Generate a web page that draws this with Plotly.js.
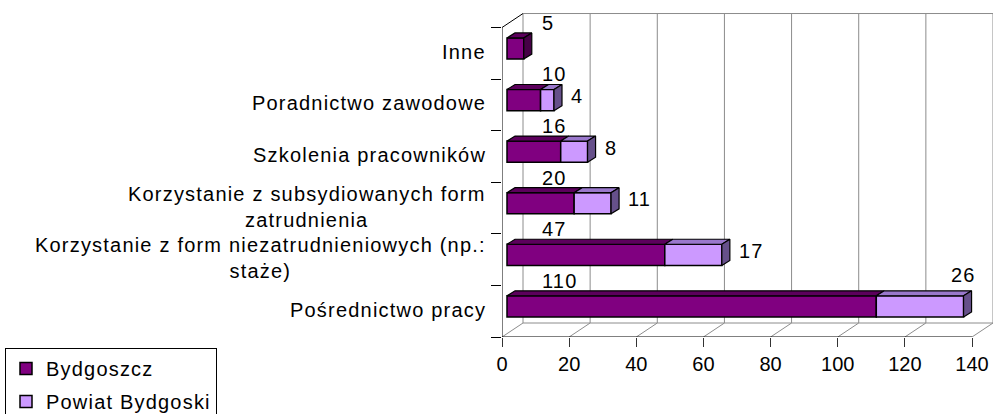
<!DOCTYPE html>
<html><head><meta charset="utf-8">
<script src="https://cdn.plot.ly/plotly-3.0.1.min.js"></script>
<style>
body{margin:0;background:#fff}
.annotation-text, .legendtext {letter-spacing:1.2px}
</style></head>
<body><div id="chart" style="width:994px;height:414px"></div>
<script>
// ---- data ----
const categories = ["Pośrednictwo pracy", "Korzystanie z form niezatrudnieniowych (np.:<br>staże)", "Korzystanie z subsydiowanych form<br>zatrudnienia", "Szkolenia pracowników", "Poradnictwo zawodowe", "Inne"];
const bydgoszcz = [110, 47, 20, 16, 10, 5];
const powiat = [26, 17, 11, 8, 4, 0];
const xTicks = [0, 20, 40, 60, 80, 100, 120, 140];
const seriesNames = ["Bydgoszcz", "Powiat Bydgoski"];

// ---- geometry ----
const W = 994, H = 414, ML = 502, MR = 1, MT = 13, MB = 77;
const PW = W - ML - MR, PH = H - MT - MB;
const PX = 470 / 140;          // px per value unit
const CH = 51.58;              // px per category
const XMAX = PW / PX, YMAX = PH / CH;
const N = categories.length;
const XEND = xTicks[xTicks.length - 1];
const WDX = 21 / PX, WDY = 14 / CH;   // wall depth offset
const BX = 5 / PX, BY = 4.8 / CH;     // bar front-face offset
const BDX = 8 / PX, BDY = 5 / CH;     // bar depth
const BH = 0.41;                      // bar thickness

const col = {
  bydFront: '#800080', bydTop: '#5c005c', bydSide: '#460046',
  powFront: '#CC99FF', powTop: '#9a78cc', powSide: '#66508a'
};
const grid = '#8c8c8c';

const yc = categories.map((_, i) => i + 0.5 + BY);
const traces = [];
traces.push({
  type: 'bar', orientation: 'h', name: seriesNames[0], legendgroup: 'a',
  x: bydgoszcz, y: yc, base: bydgoszcz.map(() => BX), width: BH,
  marker: {color: col.bydFront, line: {color: '#000', width: 1.5}}, hoverinfo: 'skip'
});
traces.push({
  type: 'bar', orientation: 'h', name: seriesNames[1], legendgroup: 'b',
  x: powiat.map(v => v > 0 ? v : null), y: yc, base: bydgoszcz.map(v => BX + v), width: BH,
  marker: {color: col.powFront, line: {color: '#000', width: 1.5}}, hoverinfo: 'skip'
});

function poly(xs, ys, fill) {
  traces.push({type: 'scatter', mode: 'lines', x: xs.concat([xs[0]]), y: ys.concat([ys[0]]),
    fill: 'toself', fillcolor: fill, line: {color: '#000', width: 1.2},
    showlegend: false, hoverinfo: 'skip'});
}
categories.forEach((c, i) => {
  const yt = yc[i] + BH / 2, yb = yc[i] - BH / 2;
  const x0 = BX, x1 = BX + bydgoszcz[i], x2 = x1 + powiat[i];
  poly([x0, x1, x1 + BDX, x0 + BDX], [yt, yt, yt + BDY, yt + BDY], col.bydTop);
  if (powiat[i] > 0) poly([x1, x2, x2 + BDX, x1 + BDX], [yt, yt, yt + BDY, yt + BDY], col.powTop);
  poly([x2, x2 + BDX, x2 + BDX, x2], [yb, yb + BDY, yt + BDY, yt], powiat[i] > 0 ? col.powSide : col.bydSide);
});

// ---- walls ----
const shapes = [];
function ln(x0, y0, x1, y1, color, w) {
  shapes.push({type: 'line', xref: 'x', yref: 'y', x0, y0, x1, y1, layer: 'below', line: {color, width: w || 1}});
}
xTicks.forEach(v => {
  ln(v + WDX, WDY, v + WDX, N + WDY, grid);
  ln(v, 0, v + WDX, WDY, grid);
});
ln(WDX, N + WDY, XEND + WDX, N + WDY, grid);
ln(WDX, WDY, XEND + WDX, WDY, grid);
ln(0, 0, XEND, 0, '#000');
ln(0, 0, 0, N, '#000');
ln(0, N, WDX, N + WDY, '#000');

// ---- annotations ----
const F = 'Arial, "Liberation Sans", sans-serif';
const ann = [];
categories.forEach((c, i) => {
  ann.push({xref: 'paper', x: (488 - ML) / PW, xanchor: 'right', yref: 'y', y: i + 0.5, yanchor: 'middle',
    yshift: 1.5, text: c, align: 'center', showarrow: false, font: {family: F, size: 20, color: '#000'}});
  ann.push({xref: 'x', x: 11.2, xanchor: 'left', yref: 'y', y: i + 0.5 + 0.59, yanchor: 'middle',
    text: String(bydgoszcz[i]), showarrow: false, font: {family: F, size: 20, color: '#000'}});
  if (powiat[i] > 0) {
    const end = BX + bydgoszcz[i] + powiat[i];
    if (end > 0.9 * XEND) {
      ann.push({xref: 'x', x: end, xanchor: 'center', yref: 'y', y: i + 0.5 + 0.70, yanchor: 'middle',
        text: String(powiat[i]), showarrow: false, font: {family: F, size: 20, color: '#000'}});
    } else {
      ann.push({xref: 'x', x: end + BDX, xanchor: 'left', xshift: 7, yref: 'y', y: yc[i] + BDY / 2, yanchor: 'middle',
        yshift: 1.5, text: String(powiat[i]), showarrow: false, font: {family: F, size: 20, color: '#000'}});
    }
  }
});

const layout = {
  width: W, height: H,
  margin: {l: ML, r: MR, t: MT, b: MB, autoexpand: false},
  paper_bgcolor: '#fff', plot_bgcolor: 'rgba(0,0,0,0)',
  font: {family: F, size: 20, color: '#000'},
  barmode: 'overlay',
  xaxis: {range: [0, XMAX], tickvals: xTicks, ticktext: xTicks.map(String), ticks: 'outside', ticklen: 9,
    tickcolor: '#333', showgrid: false, zeroline: false, showline: false, tickfont: {family: F, size: 20}, fixedrange: true},
  yaxis: {range: [0, YMAX], tickvals: categories.map((_, i) => i).concat([N]), ticks: 'outside', ticklen: 10,
    tickcolor: '#000', showticklabels: false, showgrid: false, zeroline: false, showline: false, fixedrange: true},
  shapes, annotations: ann,
  showlegend: true,
  legend: {x: (5 - ML) / PW, y: -(348 - (H - MB)) / PH, xanchor: 'left', yanchor: 'top',
    bordercolor: '#000', borderwidth: 1, bgcolor: '#fff', font: {family: F, size: 20},
    tracegroupgap: 4, traceorder: 'grouped'}
};
Plotly.newPlot('chart', traces, layout, {staticPlot: true});
</script></body></html>
